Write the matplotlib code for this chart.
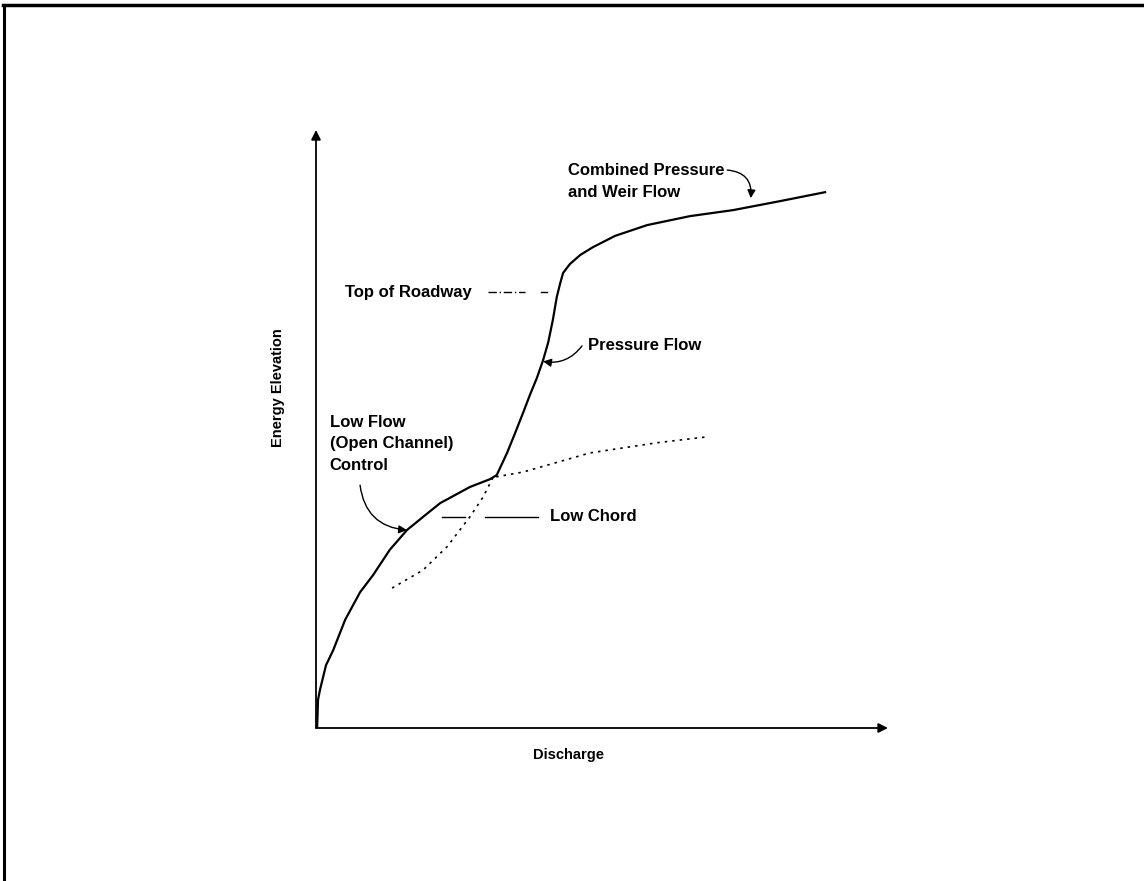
import numpy as np
import matplotlib
matplotlib.use("Agg")
import matplotlib.pyplot as plt
from matplotlib.lines import Line2D

plt.rcParams['font.family'] = ['Liberation Sans', 'DejaVu Sans']

# energy curve (solid): low flow control up to low chord, then pressure flow, then weir
q_main = [0.2, 0.35, 0.7, 1.75, 3.0, 5.1, 7.7, 10.0, 12.9, 15.9, 19.1, 21.7, 26.9, 30.4,
          31.6, 33.4, 34.8, 36.2, 37.4, 38.6, 39.7, 40.6, 41.4, 42.1, 42.7, 43.2,
          44.4, 46.2, 48.4, 52.3, 57.9, 65.4, 72.9, 81.1, 89.0]
e_main = [0.0, 4.7, 6.4, 10.5, 13.0, 18.1, 22.7, 25.6, 29.8, 33.1, 35.6, 37.6, 40.3, 41.6,
          42.3, 46.0, 49.3, 52.7, 55.7, 58.5, 61.5, 64.5, 68.2, 72.1, 74.4, 76.1,
          77.6, 79.1, 80.4, 82.3, 84.1, 85.6, 86.6, 88.1, 89.6]

# dotted extensions
q_press_ext = [13.3, 18.7, 22.9, 26.9, 29.2, 30.9]
e_press_ext = [23.4, 26.4, 30.3, 35.3, 38.6, 41.8]
q_open_ext = [31.5, 36.2, 47.9, 59.6, 68.5]
e_open_ext = [42.0, 42.8, 46.0, 47.7, 48.7]

fig = plt.figure(figsize=(11.44, 8.81), dpi=100)
ax = fig.add_axes([316 / 1144, 1 - 728 / 881, 572 / 1144, 598 / 881])
ax.set_xlim(0, 100)
ax.set_ylim(0, 100)
ax.axis('off')

# axes with arrows
arr = dict(arrowstyle='-|>', lw=1.3, color='black', mutation_scale=14, shrinkA=0, shrinkB=0)
ax.annotate('', xy=(0, 100), xytext=(0, 0), arrowprops=arr, annotation_clip=False)
ax.annotate('', xy=(100, 0), xytext=(0, 0), arrowprops=arr, annotation_clip=False)

ax.plot(q_main, e_main, color='black', lw=1.6, solid_joinstyle='round')
ax.plot(q_press_ext, e_press_ext, color='black', lw=1.2, ls=(0, (1.5, 3)))
ax.plot(q_open_ext, e_open_ext, color='black', lw=1.2, ls=(0, (1.5, 3)))

tkw = dict(fontsize=12, fontweight='bold', color='black')
lkw = dict(fontsize=10.5, fontweight='bold', color='black')

ax.text(44.1, 94.4, 'Combined Pressure\nand Weir Flow', ha='left', va='top',
        linespacing=1.55, **tkw)
ax.annotate('', xy=(76.0, 88.6), xytext=(71.9, 93.3),
            arrowprops=dict(arrowstyle='-|>', lw=1.0, color='black', mutation_scale=12,
                            connectionstyle='arc3,rad=-0.5', shrinkA=0, shrinkB=0))

ax.text(5.1, 72.9, 'Top of Roadway', ha='left', va='center', **tkw)
ax.plot([30.1, 36.5], [72.9, 72.9], color='black', lw=1.0, ls=(0, (6, 2, 1, 2)))
ax.plot([39.3, 40.4], [72.9, 72.9], color='black', lw=1.0)

ax.text(47.6, 64.0, 'Pressure Flow', ha='left', va='center', **tkw)
ax.annotate('', xy=(39.7, 61.3), xytext=(46.5, 63.9),
            arrowprops=dict(arrowstyle='-|>', lw=1.0, color='black', mutation_scale=12,
                            connectionstyle='arc3,rad=-0.3', shrinkA=0, shrinkB=0))

ax.text(2.4, 52.4, 'Low Flow\n(Open Channel)\nControl', ha='left', va='top',
        linespacing=1.55, **tkw)
ax.annotate('', xy=(15.9, 33.1), xytext=(7.7, 40.6),
            arrowprops=dict(arrowstyle='-|>', lw=1.0, color='black', mutation_scale=12,
                            connectionstyle='arc3,rad=0.4', shrinkA=0, shrinkB=0))

ax.text(40.9, 35.3, 'Low Chord', ha='left', va='center', **tkw)
ax.plot([22.0, 26.0], [35.3, 35.3], color='black', lw=1.0)
ax.plot([29.5, 38.8], [35.3, 35.3], color='black', lw=1.0)

ax.text(-6.6, 57.0, 'Energy Elevation', rotation=90, ha='center', va='center', **lkw)
ax.text(44.1, -4.5, 'Discharge', ha='center', va='center', **lkw)

# page frame (top and left edges)
fig.add_artist(Line2D([0.003, 1.0], [1 - 4.5 / 881, 1 - 4.5 / 881], color='black', lw=2.5))
fig.add_artist(Line2D([4 / 1144, 4 / 1144], [0.0, 1 - 4.5 / 881], color='black', lw=2.2))

fig.savefig('out.png', dpi=100)
